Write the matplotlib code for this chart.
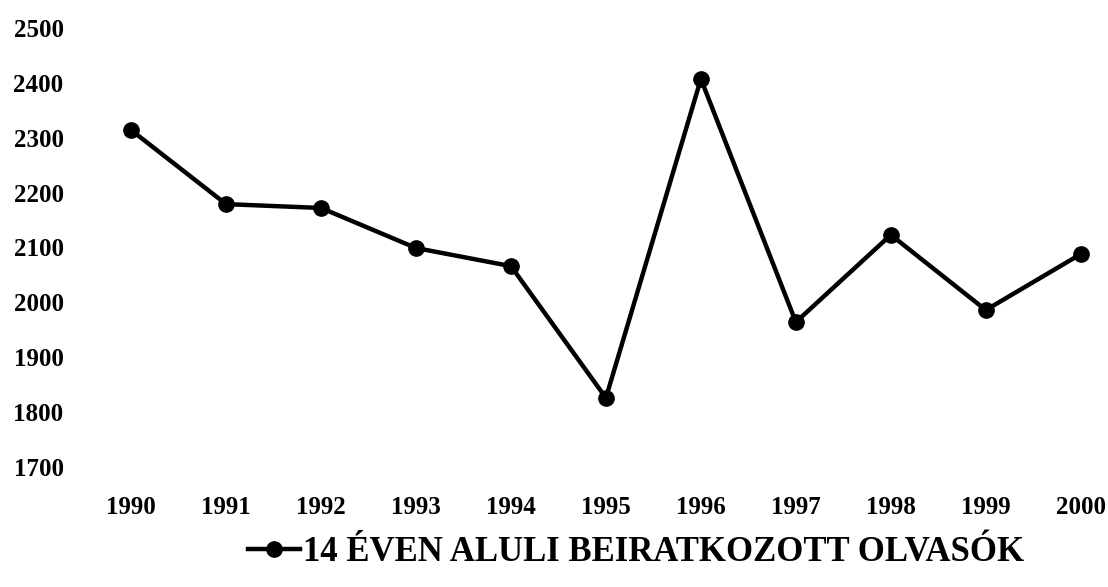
import matplotlib.pyplot as plt

# Data
years = [1990, 1991, 1992, 1993, 1994, 1995, 1996, 1997, 1998, 1999, 2000]
readers = [2314, 2179, 2172, 2099, 2066, 1826, 2407, 1964, 2123, 1986, 2088]
y_ticks = [1700, 1800, 1900, 2000, 2100, 2200, 2300, 2400, 2500]
series_label = "14 ÉVEN ALULI BEIRATKOZOTT OLVASÓK"

plt.rcParams['font.family'] = ['Liberation Serif', 'DejaVu Serif']
plt.rcParams['font.weight'] = 'bold'

fig = plt.figure(figsize=(11.08, 5.87), dpi=100)
ax = fig.add_axes([0.09, 0.2044, 0.90, 0.748])

ax.plot(years, readers, color='black', linewidth=3.2, marker='o',
        markersize=11, label=series_label, clip_on=False)

ax.set_xlim(1989.67, 2000.17)
ax.set_ylim(1700, 2500)
ax.set_xticks(years)
ax.set_yticks(y_ticks)
ax.tick_params(axis='both', length=0, labelsize=18)
ax.tick_params(axis='y', pad=26)
ax.tick_params(axis='x', pad=21)
for s in ax.spines.values():
    s.set_visible(False)

# Legend below the plot
fig.legend(loc='center', bbox_to_anchor=(0.574, 0.058), frameon=False,
           handlelength=1.5, handletextpad=0.1,
           prop={'weight': 'bold', 'size': 25})

fig.savefig('out.png', dpi=100, facecolor='white')
